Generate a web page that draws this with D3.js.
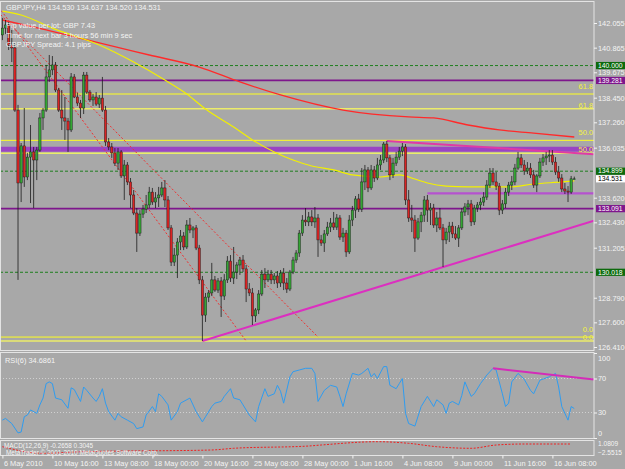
<!DOCTYPE html>
<html>
<head>
<meta charset="utf-8">
<script src="https://cdnjs.cloudflare.com/ajax/libs/d3/7.8.5/d3.min.js"></script>
<style>
    body { margin: 0; background: #a8a8a8; }
    svg { display: block; font-family: "Liberation Sans", Arial, sans-serif; }
</style>
</head>
<body>
<svg id="chart" width="625" height="469"></svg>
<script>
// GBPJPY H4, one value per bar
var opens = [141.48,141.81,141.96,140.99,140.85,137.85,134.33,136.12,134.62,135.58,
    135.83,135.44,135.92,137.47,137.85,139.45,139.79,140.03,138.82,137.85,
    137.47,137.32,136.89,139.45,138.48,138.19,137.95,139.54,138.72,138.34,
    138.48,138.14,138.43,137.85,136.31,136.07,135.78,135.29,135.83,134.67,
    135.20,134.38,133.75,132.88,131.91,132.83,133.07,133.27,133.89,133.41,
    133.61,133.75,134.09,133.51,132.16,130.51,130.85,131.48,131.77,131.24,
    132.30,132.06,132.16,131.19,129.65,127.95,128.82,129.02,129.65,129.16,
    129.60,128.87,129.65,130.56,129.74,130.03,130.37,130.61,130.18,129.21,
    129.02,127.91,128.20,128.97,129.93,129.65,129.93,129.65,129.84,129.50,
    129.98,129.50,129.21,130.03,130.61,130.95,131.91,132.54,132.45,132.69,
    132.45,132.64,131.58,131.43,131.87,132.20,132.40,132.20,132.64,131.72,
    131.91,131.00,132.54,133.02,133.56,133.07,134.38,134.96,134.09,134.96,
    134.57,135.20,135.44,136.21,135.54,134.72,135.29,135.58,135.87,136.07,
    133.51,132.64,132.54,131.67,132.45,132.78,133.51,133.02,133.12,132.30,
    132.64,132.16,131.58,131.96,132.25,131.87,131.67,132.16,132.93,133.17,
    133.32,132.45,133.12,133.27,133.41,133.65,134.23,134.81,134.38,134.18,
    133.02,133.32,133.89,134.23,134.38,135.05,135.54,135.20,134.91,135.05,
    134.72,134.23,134.67,135.34,135.54,135.63,135.68,135.34,134.86,134.57,
    134.04,133.94,133.89,134.530];
var highs = [142.30,142.20,142.10,141.72,141.09,138.10,136.26,137.95,135.78,137.13,
    136.07,136.07,137.71,137.95,140.03,140.51,140.46,140.17,138.92,138.82,
    138.48,137.47,139.64,139.59,138.68,138.34,139.69,139.69,138.82,138.63,
    138.72,138.58,139.45,138.05,136.50,136.26,136.02,136.02,135.92,135.44,
    135.34,134.57,133.99,133.12,133.02,133.27,133.75,134.14,134.09,133.89,
    134.14,134.38,134.47,133.70,132.30,131.19,131.67,132.06,131.96,132.54,
    132.64,132.25,132.30,131.34,129.84,129.02,129.16,130.47,129.84,129.74,
    129.79,129.93,130.80,130.85,131.24,130.51,130.76,130.85,130.37,129.50,
    129.26,128.29,129.16,130.13,130.22,130.13,130.13,129.98,130.08,130.13,
    130.22,129.74,130.13,130.76,131.09,132.06,132.78,133.12,132.93,133.02,
    133.17,132.83,131.82,132.06,132.45,132.64,132.93,132.83,132.78,132.16,
    132.06,132.78,133.22,133.70,133.80,135.05,135.20,135.10,135.20,135.15,
    135.54,135.68,136.31,136.36,135.68,135.54,135.83,136.07,136.26,136.21,
    133.99,133.27,132.78,132.64,132.93,133.70,133.75,133.36,133.32,132.93,
    133.12,132.35,132.16,132.45,132.45,132.25,132.30,133.12,133.36,133.51,
    133.51,133.27,133.41,133.61,133.89,134.47,135.05,135.05,134.86,134.33,
    133.51,134.09,134.38,134.67,135.25,135.83,135.73,135.44,135.34,135.29,
    134.96,134.76,135.54,135.73,135.83,135.92,135.92,135.58,135.15,134.76,
    134.33,134.18,134.67,134.637];
var lows = [141.23,141.52,140.75,140.17,137.76,129.65,133.41,134.14,134.47,133.36,
    133.12,134.47,135.83,136.89,137.76,139.21,139.54,138.72,137.76,136.89,
    136.41,135.83,136.79,138.43,138.05,137.47,137.66,138.63,138.24,138.05,
    138.05,137.95,137.76,136.12,135.92,135.54,135.15,134.96,134.57,133.51,
    134.23,133.12,132.78,131.00,131.77,132.64,132.88,133.12,133.27,133.12,
    133.17,133.65,133.17,132.06,130.32,130.32,129.74,131.09,131.09,131.14,
    131.91,131.67,131.09,129.45,126.70,127.62,128.58,128.87,129.07,129.02,
    127.86,128.68,129.50,129.55,129.45,129.69,129.89,130.03,128.58,128.87,
    127.47,127.62,128.00,128.87,129.26,129.55,129.45,129.45,129.26,129.31,
    129.16,129.02,129.11,129.93,130.47,130.76,131.77,132.25,132.25,132.25,
    132.16,130.76,131.29,131.00,131.77,131.96,132.06,132.06,131.58,131.48,
    130.76,130.90,132.25,132.64,132.93,132.93,133.99,133.89,133.99,134.38,
    134.47,134.96,135.29,135.34,134.47,134.57,135.15,135.44,135.63,133.27,
    132.45,131.96,131.00,131.58,131.96,132.45,132.45,132.30,132.16,131.96,
    132.06,130.27,131.38,131.48,131.67,131.58,131.24,132.06,132.74,132.78,
    132.25,132.30,132.93,133.02,133.22,133.51,134.09,134.23,133.99,132.78,
    132.83,133.12,133.70,133.99,134.23,134.96,135.05,134.72,134.76,134.57,
    134.09,133.89,134.57,135.15,135.20,135.34,135.20,134.72,134.38,133.89,
    133.80,133.41,133.80,134.520];
var closes = [141.81,141.96,140.99,140.85,137.85,134.33,136.12,134.62,135.58,135.83,
    135.44,135.92,137.47,137.85,139.45,139.79,140.03,138.82,137.85,137.47,
    137.32,136.89,139.45,138.48,138.19,137.95,139.54,138.72,138.34,138.48,
    138.14,138.43,137.85,136.31,136.07,135.78,135.29,135.83,134.67,135.20,
    134.38,133.75,132.88,131.91,132.83,133.07,133.27,133.89,133.41,133.61,
    133.75,134.09,133.51,132.16,130.51,130.85,131.48,131.77,131.24,132.30,
    132.06,132.16,131.19,129.65,127.95,128.82,129.02,129.65,129.16,129.60,
    128.87,129.65,130.56,129.74,130.03,130.37,130.61,130.18,129.21,129.02,
    127.91,128.20,128.97,129.93,129.65,129.93,129.65,129.84,129.50,129.98,
    129.50,129.21,130.03,130.61,130.95,131.91,132.54,132.45,132.69,132.45,
    132.64,131.58,131.43,131.87,132.20,132.40,132.20,132.64,131.72,131.91,
    131.00,132.54,133.02,133.56,133.07,134.38,134.96,134.09,134.96,134.57,
    135.20,135.44,136.21,135.54,134.72,135.29,135.58,135.87,136.07,133.51,
    132.64,132.54,131.67,132.45,132.78,133.51,133.02,133.12,132.30,132.64,
    132.16,131.58,131.96,132.25,131.87,131.67,132.16,132.93,133.17,133.32,
    132.45,133.12,133.27,133.41,133.65,134.23,134.81,134.38,134.18,133.02,
    133.32,133.89,134.23,134.38,135.05,135.54,135.20,134.91,135.05,134.72,
    134.23,134.67,135.34,135.54,135.63,135.68,135.34,134.86,134.57,134.04,
    133.94,133.89,134.53,134.531];

// moving averages: [bar, price]
var maRed = [[0,142.20],[14,141.72],[31,141.09],[47,140.51],[63,139.93],[76,139.21],[89,138.58],
    [109,137.85],[130,137.52],[138,137.47],[149,137.13],[159,136.89],[170,136.74],[183,136.55]];
var maYellow = [[0,142.63],[6,142.44],[16,141.81],[31,140.99],[42,140.17],[52,139.30],[59,138.63],
    [65,137.90],[74,137.03],[80,136.41],[87,135.83],[93,135.44],[99,135.15],[106,134.96],[112,134.72],
    [121,134.62],[127,134.72],[132,134.52],[136,134.33],[142,134.18],[149,134.14],[162,134.14],
    [170,134.28],[179,134.38],[183,134.43]];

// RSI(6) and MACD signal: [bar, value]
var rsiPoints = [[0,21],[1,23],[3,17],[5,6],[6,7],[7,25],[8,27],[9,33],[11,29],[12,39],[13,47],[14,64],
    [15,66],[16,64],[17,47],[19,45],[21,35],[22,59],[23,57],[25,43],[26,60],[27,56],[29,47],[30,43],
    [31,49],[32,58],[33,41],[34,31],[36,21],[37,29],[38,25],[40,21],[42,17],[43,11],[45,13],[46,27],
    [48,37],[49,31],[50,52],[51,49],[53,39],[54,21],[56,31],[57,41],[60,47],[62,31],[64,19],[65,25],
    [67,37],[68,41],[70,43],[71,49],[73,58],[74,47],[76,45],[77,39],[79,27],[81,19],[82,37],[84,58],
    [85,49],[87,52],[88,62],[89,55],[90,41],[92,72],[93,78],[95,80],[97,82],[99,82],[100,76],[101,43],
    [103,56],[105,62],[107,60],[108,49],[109,37],[110,52],[112,76],[114,74],[115,76],[117,82],[118,72],
    [119,76],[120,70],[122,84],[123,84],[124,62],[126,58],[127,64],[128,70],[129,29],[130,17],[132,14],
    [134,37],[136,49],[138,37],[139,45],[141,39],[142,29],[143,41],[144,43],[146,39],[147,50],[148,66],
    [150,49],[151,52],[153,64],[155,74],[157,82],[158,80],[160,52],[161,37],[162,41],[163,66],[165,76],
    [167,69],[169,56],[170,52],[172,68],[175,72],[177,76],[178,60],[179,37],[181,21],[182,37],[183,34.6861]];
var macdSignal = [[0,-0.40],[13,-2.11],[26,-1.69],[67,-1.25],[74,-0.81],[98,-0.22],[102,0.04],
    [120,0.90],[130,0.48],[139,-0.40],[150,-0.81],[158,0.04],[167,0.30],[182,0.30]];

// objects on the chart
var greenLevels = [140.000, 134.899, 130.018];
var purpleLevels = [139.281, 133.091];
var purpleZone = [135.84, 136.08];
var purpleShort = {bar: 136, price: 133.83};
var fiboLabels = ["61.8", "50.0", "0.0"];
var fibo1Prices = [138.626, 136.39, 126.89];
var fibo2Prices = [137.917, 135.76, 126.70];
var fiboBase = [[[-23, 145.89], [101, 126.89]], [[-11, 144.82], [78, 126.70]]];
var trendTop = [[123, 136.36], [183, 135.78]];
var trendLow = [[64, 126.70], [141, 130.27]];
var rsiTrend = [[157, 82], [183, 71.5]];

var priceTicks = [142.055, 140.865, 139.675, 138.450, 137.260, 136.035, 133.620,
    132.430, 131.205, 128.790, 127.600, 126.410];
var dateTicks = [0, 16, 32, 48, 64, 80, 96, 112, 128, 144, 160, 176];
var dateLabels = ["6 May 2010", "10 May 16:00", "13 May 08:00", "18 May 00:00", "20 May 16:00",
    "25 May 08:00", "28 May 00:00", "1 Jun 16:00", "4 Jun 08:00", "9 Jun 00:00", "11 Jun 16:00",
    "16 Jun 08:00"];
var rsiTicks = [100, 70, 30, 0];
var rsiLevels = [70, 30];
var macdTicks = [1.0809, -2.5515];

var svg = d3.select("#chart");
var right = 594;
var fg = "#f4f4f4";
var fontSize = 7.4;

svg.append("rect").attr("width", 625).attr("height", 469).attr("fill", "#a8a8a8");

var x = d3.scaleLinear().domain([0, 183]).range([2.4, 2.4 + 3.125 * 183]);
var y = d3.scaleLinear().domain([126.41, 142.055]).range([347, 23]);
var yRsi = d3.scaleLinear().domain([0, 100]).range([438, 353]);
var yMacd = d3.scaleLinear().domain([-2.5515, 1.0809]).range([455, 441]);

var defs = svg.append("defs");
function clip(id, y0, y1) {
    defs.append("clipPath").attr("id", id).append("rect")
        .attr("x", 1).attr("y", y0).attr("width", right - 1).attr("height", y1 - y0);
}
clip("mainClip", 2, 350);
clip("rsiClip", 353, 438);
clip("macdClip", 441, 455);

var main = svg.append("g").attr("clip-path", "url(#mainClip)");
var rsiG = svg.append("g").attr("clip-path", "url(#rsiClip)");
var macdG = svg.append("g").attr("clip-path", "url(#macdClip)");

function hline(g, yy, color, w, dash) {
    g.append("line").attr("x1", 0).attr("x2", right).attr("y1", yy).attr("y2", yy)
        .attr("stroke", color).attr("stroke-width", w)
        .attr("stroke-dasharray", dash || null);
}
// straight line through two anchors, carried on to the right border
function ray(g, pts, sy, color, w) {
    var b1 = pts[0][0], v1 = pts[0][1], b2 = pts[1][0], v2 = pts[1][1];
    var bEnd = x.invert(right);
    var vEnd = v1 + (v2 - v1) * (bEnd - b1) / (b2 - b1);
    g.append("line").attr("x1", x(b1)).attr("y1", sy(v1)).attr("x2", right).attr("y2", sy(vEnd))
        .attr("stroke", color).attr("stroke-width", w);
}

// zone and levels
main.append("rect").attr("x", 0).attr("width", right)
    .attr("y", y(purpleZone[1])).attr("height", y(purpleZone[0]) - y(purpleZone[1]))
    .attr("fill", "#9a44c4");
greenLevels.forEach(function (p) { hline(main, y(p), "#1f7f1f", 1, "3,2"); });
purpleLevels.forEach(function (p) { hline(main, y(p), "#7e168c", 1.7); });
fibo1Prices.forEach(function (p) { hline(main, y(p), "#ffff20", 1); });
fibo2Prices.forEach(function (p) { hline(main, y(p), "#ecec6a", 1.5); });
main.append("line").attr("x1", x(purpleShort.bar)).attr("x2", right)
    .attr("y1", y(purpleShort.price)).attr("y2", y(purpleShort.price))
    .attr("stroke", "#b552cf").attr("stroke-width", 2.4);

fiboBase.forEach(function (f) {
    main.append("line")
        .attr("x1", x(f[0][0])).attr("y1", y(f[0][1]))
        .attr("x2", x(f[1][0])).attr("y2", y(f[1][1]))
        .attr("stroke", "#f03030").attr("stroke-width", 1).attr("stroke-dasharray", "2,2");
});
ray(main, trendTop, y, "#e03aa6", 2);
ray(main, trendLow, y, "#dc2fc0", 2);

// moving averages
var maLine = d3.line().x(function (d) { return x(d[0]); }).y(function (d) { return y(d[1]); })
    .curve(d3.curveMonotoneX);
main.append("path").attr("d", maLine(maRed)).attr("fill", "none")
    .attr("stroke", "#ff2a2a").attr("stroke-width", 1.3);
main.append("path").attr("d", maLine(maYellow)).attr("fill", "none")
    .attr("stroke", "#f2f000").attr("stroke-width", 1.2);

// candles
var bars = d3.range(closes.length);
var bodyW = 2.3;
main.selectAll(".wick").data(bars).enter().append("line").attr("class", "wick")
    .attr("x1", function (d) { return x(d); }).attr("x2", function (d) { return x(d); })
    .attr("y1", function (d) { return y(highs[d]); }).attr("y2", function (d) { return y(lows[d]); })
    .attr("stroke", "#1c1c1c").attr("stroke-width", 0.8);
main.selectAll(".body").data(bars).enter().append("rect").attr("class", "body")
    .attr("x", function (d) { return x(d) - bodyW / 2; })
    .attr("y", function (d) { return y(Math.max(opens[d], closes[d])); })
    .attr("width", bodyW)
    .attr("height", function (d) { return Math.max(0.8, Math.abs(y(opens[d]) - y(closes[d]))); })
    .attr("fill", function (d) { return closes[d] >= opens[d] ? "#34a534" : "#d92424"; })
    .attr("stroke", "#1c1c1c").attr("stroke-width", 0.45);

// fibo level labels, the lower set sits a little lower so the two "0.0" stay apart
function fiboText(prices, off) {
    prices.forEach(function (p, i) {
        svg.append("text").attr("x", right - 1).attr("y", y(p) - off)
            .attr("text-anchor", "end").attr("fill", "#f4f43a")
            .attr("font-size", fontSize).text(fiboLabels[i]);
    });
}
fiboText(fibo1Prices, 5);
fiboText(fibo2Prices, 1);

// RSI window
rsiLevels.forEach(function (v) { hline(rsiG, yRsi(v), "#d0d0d0", 1, "1,2"); });
var rsiLine = d3.line().x(function (d) { return x(d[0]); }).y(function (d) { return yRsi(d[1]); });
rsiG.append("path").attr("d", rsiLine(rsiPoints)).attr("fill", "none")
    .attr("stroke", "#2f9cf0").attr("stroke-width", 1);
ray(rsiG, rsiTrend, yRsi, "#d42cb8", 2);

// MACD window
var macdLine = d3.line().x(function (d) { return x(d[0]); }).y(function (d) { return yMacd(d[1]); })
    .curve(d3.curveMonotoneX);
macdG.append("path").attr("d", macdLine(macdSignal)).attr("fill", "none")
    .attr("stroke", "#f02020").attr("stroke-width", 1).attr("stroke-dasharray", "2,1.5");

// window frames
[[1.5, 350.5], [352.5, 438.5], [440.5, 455.5]].forEach(function (r) {
    svg.append("rect").attr("x", 0.5).attr("y", r[0]).attr("width", right - 0.5)
        .attr("height", r[1] - r[0]).attr("fill", "none").attr("stroke", "#e4e4e4").attr("stroke-width", 1);
});

function styleAxis(g) {
    g.attr("font-size", fontSize).attr("font-family", "Liberation Sans, Arial, sans-serif");
    g.select(".domain").remove();
    g.selectAll("line").attr("stroke", fg);
    g.selectAll("text").attr("fill", fg);
}

var yAxis = svg.append("g").attr("transform", "translate(" + right + ",0)")
    .call(d3.axisRight(y).tickValues(priceTicks).tickFormat(d3.format(".3f")).tickSize(3).tickPadding(1));
styleAxis(yAxis);

var rAxis = svg.append("g").attr("transform", "translate(" + right + ",0)")
    .call(d3.axisRight(yRsi).tickValues(rsiTicks).tickSize(3).tickPadding(1));
styleAxis(rAxis);
rAxis.selectAll(".tick").filter(function (d) { return d === 100; }).select("text").attr("dy", "1.0em");
rAxis.selectAll(".tick").filter(function (d) { return d === 0; }).select("text").attr("dy", "-0.3em");

var mAxis = svg.append("g").attr("transform", "translate(" + right + ",0)")
    .call(d3.axisRight(yMacd).tickValues(macdTicks).tickFormat(d3.format(".4f")).tickSize(0).tickPadding(4));
styleAxis(mAxis);
mAxis.attr("font-size", 6.6);
mAxis.selectAll(".tick").filter(function (d) { return d > 0; }).select("text").attr("dy", "0.75em");
mAxis.selectAll(".tick").filter(function (d) { return d < 0; }).select("text").attr("dy", "-0.05em");

var xAxis = svg.append("g").attr("transform", "translate(0,455.5)")
    .call(d3.axisBottom(x).tickValues(dateTicks)
        .tickFormat(function (d, i) { return dateLabels[i]; }).tickSize(3).tickPadding(2));
styleAxis(xAxis);
xAxis.selectAll("text").attr("text-anchor", "start").attr("x", 1);

// price boxes on the right scale
function priceBox(p, fill, color) {
    var yy = y(p);
    svg.append("rect").attr("x", 596).attr("y", yy - 3.6).attr("width", 29).attr("height", 7.2)
        .attr("fill", fill);
    svg.append("text").attr("x", 598).attr("y", yy).attr("dy", "0.33em")
        .attr("fill", color).attr("font-size", 6.8).text(d3.format(".3f")(p));
}
greenLevels.forEach(function (p) { priceBox(p, "#0d6a0d", "#ffffff"); });
purpleLevels.forEach(function (p) { priceBox(p, "#7e168c", "#ffffff"); });
priceBox(closes[closes.length - 1], "#ffffff", "#000000");

// texts
function label(tx, ty, s, size) {
    svg.append("text").attr("x", tx).attr("y", ty).attr("fill", fg)
        .attr("font-size", size || fontSize).text(s);
}
label(6, 10, "GBPJPY,H4  " + [opens[183], highs[183], lows[183], closes[183]].map(d3.format(".3f")).join(" "));
label(6, 28, "Pip value per lot: GBP 7.43");
label(6, 37.5, "Time for next bar 3 hours 56 min 9 sec");
label(6, 47, "GBPJPY Spread:  4.1 pips");
label(5, 363, "RSI(6) " + d3.format(".4f")(rsiPoints[rsiPoints.length - 1][1]));
label(4, 447.5, "MACD(12,26,9) -0.2658 0.3045", 6.4);
label(6, 454.5, "MetaTrader © 2001-2010 MetaQuotes Software Corp.", 6.4);
</script>
</body>
</html>
